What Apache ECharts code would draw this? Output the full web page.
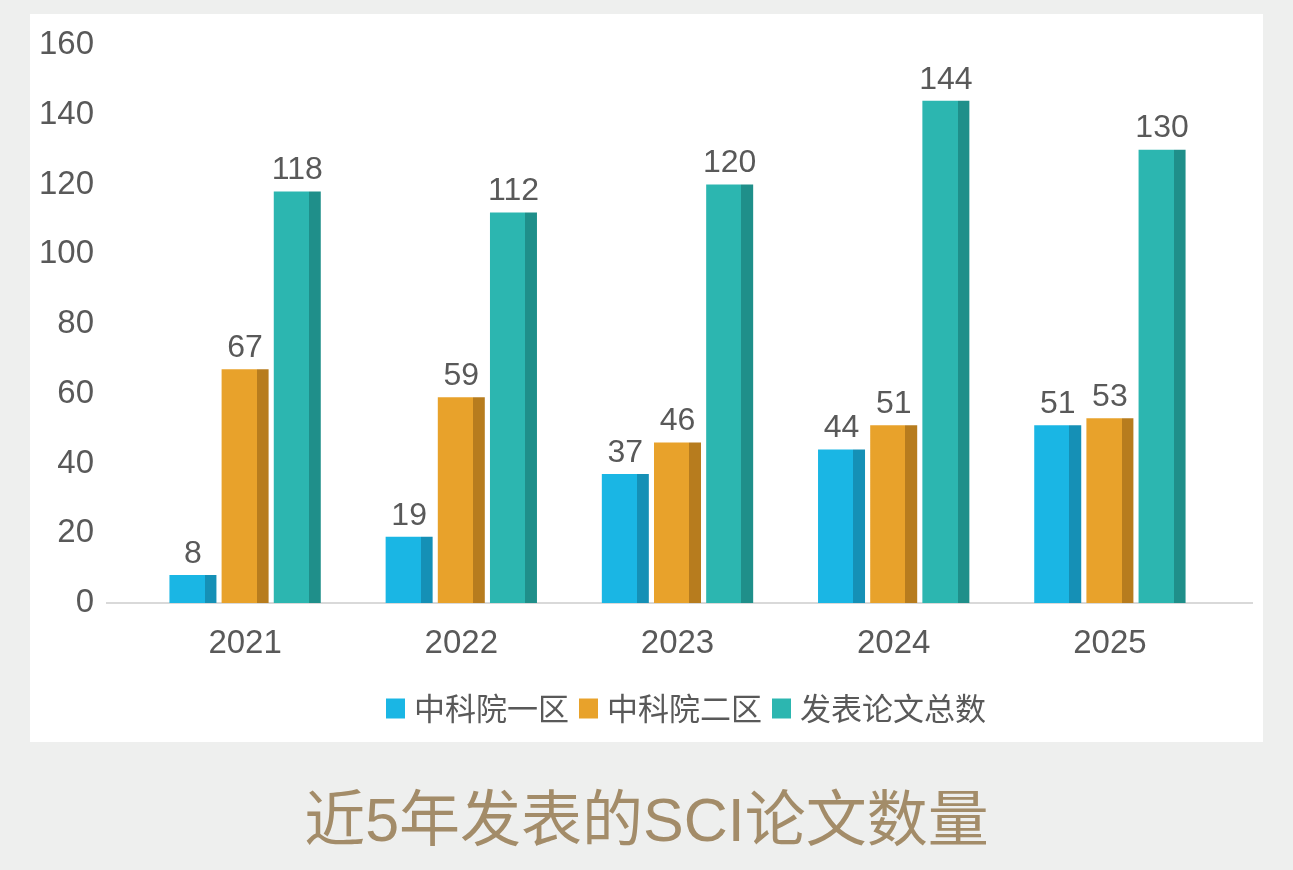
<!DOCTYPE html>
<html><head><meta charset="utf-8">
<script src="https://cdn.jsdelivr.net/npm/echarts@6/dist/echarts.min.js"></script>
<style>html,body{margin:0;padding:0;background:#eeefee;}#c{width:1293px;height:870px;}</style>
</head><body><div id="c"></div>
<script>
const categories = ['2021', '2022', '2023', '2024', '2025'];
const zone1 = [8, 19, 37, 44, 51];
const zone2 = [67, 59, 46, 51, 53];
const totalPapers = [118, 112, 120, 144, 130];
const seriesNames = ['中科院一区', '中科院二区', '发表论文总数'];
const titleText = '近5年发表的SCI论文数量';

const palette = [
  ['#1ab6e4', '#1590b6'],
  ['#e8a22b', '#b77c1e'],
  ['#2cb6b0', '#1f8f8a']
];
function grad(c) {
  return new echarts.graphic.LinearGradient(0, 0, 1, 0, [
    {offset: 0, color: c[0]}, {offset: 0.75, color: c[0]},
    {offset: 0.75, color: c[1]}, {offset: 1, color: c[1]}
  ]);
}
const FONT = '"Liberation Sans", Arial, "Noto Sans CJK SC", sans-serif';
const chart = echarts.init(document.getElementById('c'));
const dataSets = [zone1, zone2, totalPapers];
chart.setOption({
  backgroundColor: '#eeefee',
  animation: false,
  textStyle: {fontFamily: FONT},
  graphic: [
    {type: 'rect', z: -10, shape: {x: 30, y: 14, width: 1233, height: 728}, style: {fill: '#ffffff'}},
    {type: 'line', z: 1, shape: {x1: 106, y1: 603, x2: 1253, y2: 603}, style: {stroke: '#d9d9d9', lineWidth: 2}}
  ],
  title: {
    text: titleText, left: 'center', top: 789,
    textStyle: {fontFamily: '"Liberation Sans", "Noto Sans CJK SC", sans-serif', fontSize: 61, fontWeight: 'normal', color: '#a38c69'}
  },
  legend: {
    data: seriesNames.map((n, i) => ({name: n, itemStyle: {color: palette[i][0]}})),
    left: 386, top: 693, padding: 0, itemWidth: 19, itemHeight: 20, itemGap: 10,
    icon: 'rect',
    textStyle: {fontFamily: '"Noto Sans CJK SC", sans-serif', fontSize: 31, color: '#595959', padding: [0, 0, 0, 4]}
  },
  grid: {left: 137, right: 75, top: 45, bottom: 267},
  xAxis: {
    type: 'category', data: categories,
    axisLine: {show: true, lineStyle: {color: '#d9d9d9', width: 2}},
    axisTick: {show: false},
    axisLabel: {fontSize: 33, color: '#595959', margin: 24, fontFamily: FONT}
  },
  yAxis: {
    type: 'value', min: 0, max: 160, interval: 20,
    axisLine: {show: false}, axisTick: {show: false}, splitLine: {show: false},
    axisLabel: {fontSize: 33, color: '#595959', margin: 43, fontFamily: FONT}
  },
  series: dataSets.map((d, i) => ({
    name: seriesNames[i], type: 'bar', data: d, barWidth: 47, barGap: '11%',
    itemStyle: {color: grad(palette[i])},
    label: {show: true, position: 'top', distance: 5, fontSize: 32, color: '#595959', fontFamily: FONT}
  }))
});
</script></body></html>
